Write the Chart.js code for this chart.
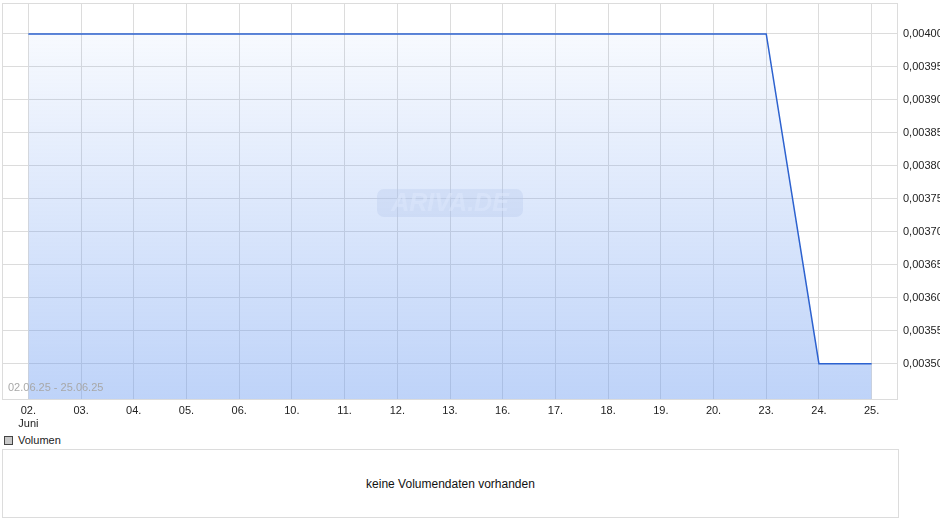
<!DOCTYPE html>
<html>
<head>
<meta charset="utf-8">
<script src="https://cdn.jsdelivr.net/npm/chart.js@4/dist/chart.umd.min.js"></script>
<style>
  html, body { margin: 0; padding: 0; background: #fff; }
  body { width: 940px; height: 526px; overflow: hidden; font-family: "Liberation Sans", Arial, sans-serif; position: relative; }
  #chart-wrap { position: absolute; left: 0; top: 0; width: 940px; height: 430px; }
  .vol-legend { position: absolute; left: 4px; top: 434px; font-size: 11px; color: #222; line-height: 12px; }
  .vol-legend span.box { display: inline-block; width: 7px; height: 7px; background: #c8c8c8; border: 1px solid #444; vertical-align: -1px; margin-right: 5px; }
  .vol-box { position: absolute; left: 2px; top: 449px; width: 895px; height: 67px; border: 1px solid #dcdcdc; font-size: 12px; color: #111; text-align: center; line-height: 68px; }
</style>
</head>
<body>
<div id="chart-wrap"><canvas id="price-chart"></canvas></div>
<div class="vol-legend"><span class="box"></span>Volumen</div>
<div class="vol-box">keine Volumendaten vorhanden</div>
<script>
// trading days in June 2025
const dayLabels = ['02.', '03.', '04.', '05.', '06.', '10.', '11.', '12.', '13.', '16.', '17.', '18.', '19.', '20.', '23.', '24.', '25.'];
const monthLabel = 'Juni';
const closePrices = [0.004, 0.004, 0.004, 0.004, 0.004, 0.004, 0.004, 0.004, 0.004, 0.004, 0.004, 0.004, 0.004, 0.004, 0.004, 0.0035, 0.0035];
const priceTicks = [0.0035, 0.00355, 0.0036, 0.00365, 0.0037, 0.00375, 0.0038, 0.00385, 0.0039, 0.00395, 0.004];
const rangeText = '02.06.25 - 25.06.25';

const labels = dayLabels.map((d, i) => i === 0 ? [d, monthLabel] : d);

// frame, date range and watermark
const decorations = {
  id: 'decorations',
  beforeDatasetsDraw(chart) {
    const { ctx, chartArea: a } = chart;
    ctx.save();
    // watermark
    const cx = (a.left + a.right) / 2, cy = 203;
    ctx.fillStyle = 'rgba(205,215,235,0.35)';
    ctx.beginPath();
    ctx.roundRect(cx - 73, cy - 14, 146, 28, 7);
    ctx.fill();
    ctx.font = 'italic bold 25px "Liberation Sans", Arial, sans-serif';
    ctx.fillStyle = 'rgba(255,255,255,0.55)';
    ctx.textAlign = 'center';
    ctx.textBaseline = 'middle';
    ctx.fillText('ARIVA.DE', cx, cy + 1);
    ctx.restore();
  },
  afterDatasetsDraw(chart) {
    const { ctx, chartArea: a } = chart;
    ctx.save();
    ctx.strokeStyle = '#dcdcdc';
    ctx.lineWidth = 1;
    ctx.strokeRect(a.left + 0.5, a.top + 0.5, a.right - a.left - 1, a.bottom - a.top - 1);
    ctx.font = '11px "Liberation Sans", Arial, sans-serif';
    ctx.fillStyle = '#a8a8a8';
    ctx.textBaseline = 'alphabetic';
    ctx.fillText(rangeText, a.left + 6, a.bottom - 9);
    ctx.restore();
  }
};

const ctx = document.getElementById('price-chart').getContext('2d');
new Chart(ctx, {
  type: 'line',
  data: {
    labels: labels,
    datasets: [{
      data: closePrices,
      borderColor: '#2d62cf',
      borderWidth: 1.5,
      pointRadius: 0,
      tension: 0,
      fill: 'start',
      backgroundColor: (context) => {
        const area = context.chart.chartArea;
        if (!area) return 'rgba(100,150,240,0.3)';
        const g = context.chart.ctx.createLinearGradient(0, area.top, 0, area.bottom);
        g.addColorStop(0, 'rgba(100,150,240,0.02)');
        g.addColorStop(1, 'rgba(100,150,240,0.42)');
        return g;
      }
    }]
  },
  options: {
    responsive: true,
    maintainAspectRatio: false,
    animation: false,
    layout: { padding: { left: 2, top: 3, right: 0, bottom: 0 } },
    plugins: { legend: { display: false }, tooltip: { enabled: false } },
    scales: {
      x: {
        offset: true,
        grid: { color: '#dcdcdc', drawTicks: false, offset: false },
        border: { display: false },
        ticks: {
          color: '#222',
          padding: 4,
          maxRotation: 0,
          autoSkip: false,
          font: { family: '"Liberation Sans", Arial, sans-serif', size: 11, lineHeight: 1.2 }
        },
        afterFit: (scale) => { scale.height = 30; }
      },
      y: {
        position: 'right',
        min: 0.003445,
        max: 0.004047,
        grid: { color: '#dcdcdc', drawTicks: false },
        border: { display: false },
        afterBuildTicks: (scale) => { scale.ticks = priceTicks.map(v => ({ value: v })); },
        afterFit: (scale) => {
          scale.width = 42;
          scale.paddingTop = 0;
          scale.paddingBottom = 0;
        },
        ticks: {
          color: '#222',
          padding: 5,
          font: { family: '"Liberation Sans", Arial, sans-serif', size: 11 },
          callback: (v) => v.toFixed(5).replace('.', ',')
        }
      }
    }
  },
  plugins: [decorations]
});
</script>
</body>
</html>
